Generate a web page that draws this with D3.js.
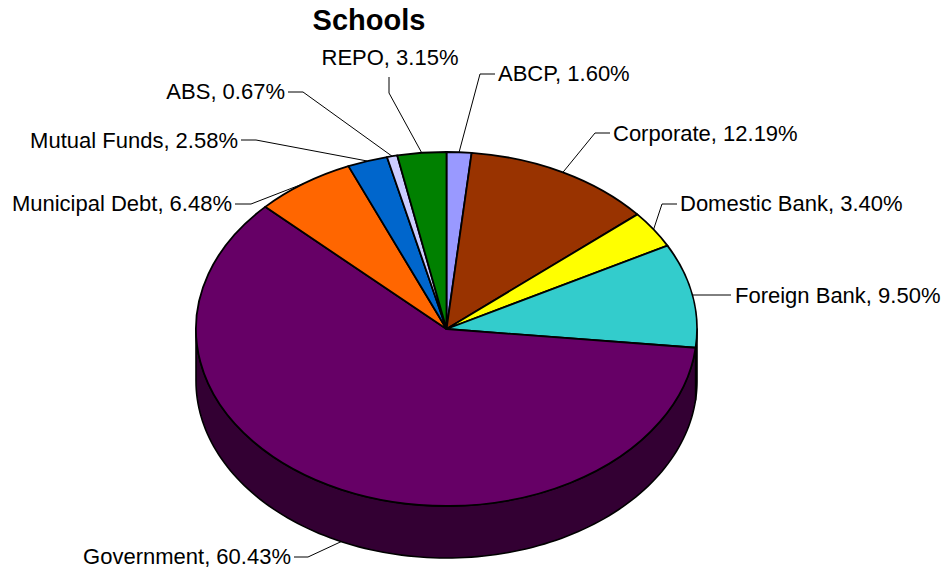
<!DOCTYPE html>
<html>
<head>
<meta charset="utf-8">
<script src="https://d3js.org/d3.v7.min.js"></script>
<style>
  html, body { margin: 0; padding: 0; background: #fff; }
  svg { display: block; }
  text { font-family: "Liberation Sans", Arial, sans-serif; fill: #000; }
</style>
</head>
<body>
<svg id="chart" width="944" height="573"></svg>
<script>
// Portfolio allocation, percent of holdings, clockwise from twelve o'clock
const categories = ["ABCP", "Corporate", "Domestic Bank", "Foreign Bank", "Government",
                    "Municipal Debt", "Mutual Funds", "ABS", "REPO"];
const shares = [1.60, 12.19, 3.40, 9.50, 60.43, 6.48, 2.58, 0.67, 3.15];
const topColors = ["#9999FF", "#993300", "#FFFF00", "#33CCCC", "#660066",
                   "#FF6600", "#0066CC", "#CCCCFF", "#008000"];
const sideColors = ["#4d4d80", "#4d1a00", "#808000", "#1a6666", "#330033",
                    "#803300", "#003366", "#666680", "#004000"];

// Callout geometry: elbow of each leader, where it ends, and how its text is anchored
const elbows = [[480, 74], [595, 133], [662, 204], [693, 295], [308, 557],
                [251, 204], [256, 140], [303, 92], [389, 93]];
const leaderEnds = [[495, 74], [610, 133], [677, 204], [731, 295], [294, 557],
                    [235, 204], [241, 140], [288, 92], [389, 77]];
const textSpots = [[498, 74, "start"], [613, 134, "start"], [680, 204, "start"], [735, 296, "start"],
                   [291, 557, "end"], [232, 204, "end"], [238, 141, "end"], [285, 92, "end"],
                   [390, 58, "middle"]];

const cx = 446.5, cy = 329, rx = 250.5, ry = 177, depth = 52;
const svg = d3.select("#chart");

const pie = d3.pie().sort(null).value(d => d);
const slices = pie(shares);

const px = a => cx + rx * Math.sin(a);
const py = a => cy - ry * Math.cos(a);

// Outer wall of the disc: only the part of each slice facing the viewer
const wall = d3.area().x(a => px(a)).y0(a => py(a)).y1(a => py(a) + depth);
const front = slices.map((s, i) => {
  const a0 = Math.max(s.startAngle, Math.PI / 2);
  const a1 = Math.min(s.endAngle, Math.PI * 1.5);
  return a1 > a0 ? { i, samples: d3.range(0, 121).map(k => a0 + (a1 - a0) * k / 120) } : null;
}).filter(Boolean);

svg.append("g").selectAll("path").data(front).join("path")
  .attr("d", d => wall(d.samples))
  .attr("fill", d => sideColors[d.i])
  .attr("stroke", "#000")
  .attr("stroke-width", 1.6)
  .attr("stroke-linejoin", "round");

// Top face: a circular pie squashed into an ellipse
const arc = d3.arc().innerRadius(0).outerRadius(rx);
svg.append("g")
  .attr("transform", `translate(${cx},${cy}) scale(1,${ry / rx})`)
  .selectAll("path").data(slices).join("path")
  .attr("d", arc)
  .attr("fill", (d, i) => topColors[i])
  .attr("stroke", "#000")
  .attr("stroke-width", 1.8)
  .attr("stroke-linejoin", "round")
  .attr("vector-effect", "non-scaling-stroke");

// Leaders start at the middle of each slice's rim
const leader = d3.line();
svg.append("g").selectAll("path").data(slices).join("path")
  .attr("d", (s, i) => {
    const mid = (s.startAngle + s.endAngle) / 2;
    const drop = Math.cos(mid) < 0 ? depth : 0;
    return leader([[px(mid), py(mid) + drop], elbows[i], leaderEnds[i]]);
  })
  .attr("fill", "none")
  .attr("stroke", "#000")
  .attr("stroke-width", 1);

svg.append("g").selectAll("text").data(categories).join("text")
  .attr("x", (d, i) => textSpots[i][0])
  .attr("y", (d, i) => textSpots[i][1])
  .attr("dy", "0.31em")
  .attr("text-anchor", (d, i) => textSpots[i][2])
  .attr("font-size", 22)
  .text((d, i) => `${d}, ${shares[i].toFixed(2)}%`);

svg.append("text")
  .attr("x", 369).attr("y", 30)
  .attr("text-anchor", "middle")
  .attr("font-size", 29)
  .attr("font-weight", "bold")
  .text("Schools");
</script>
</body>
</html>
